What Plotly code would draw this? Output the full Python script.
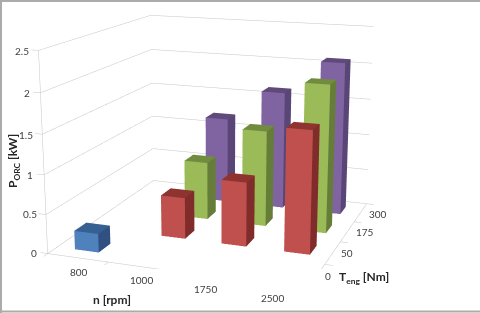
import math
import plotly.graph_objects as go

speeds = ["800", "1000", "1750", "2500"]
torques = ["0", "50", "175", "300"]
z_ticks = [0, 0.5, 1, 1.5, 2, 2.5]
z_labels = ["0", "0.5", "1", "1.5", "2", "2.5"]
blue_vals = [0.24, None, None, None]
red_vals = [None, 0.54, 0.83, 1.56]
green_vals = [None, 0.78, 1.28, 1.95]
purple_vals = [None, 1.19, 1.62, 2.08]
series = [
    (0, blue_vals, ["#4F81BD", "#376092", "#2F5080"]),
    (1, red_vals, ["#C0504D", "#8F3330", "#7F2C2A"]),
    (2, green_vals, ["#9BBB59", "#728C3F", "#667D39"]),
    (3, purple_vals, ["#8064A2", "#604A7B", "#5A4676"]),
]

PAD = 0.3
BAR_HALF = 0.2
xs, ys, zs, fc, I, J, K = [], [], [], [], [], [], []


def box(cx, cy, h, cols):
    n = len(xs)
    for z in (0, h):
        for dx, dy in ((-BAR_HALF, -BAR_HALF), (BAR_HALF, -BAR_HALF), (BAR_HALF, BAR_HALF), (-BAR_HALF, BAR_HALF)):
            xs.append(cx + dx)
            ys.append(cy + dy)
            zs.append(z)
    front, top, side = cols
    faces = [((0, 1, 5), front), ((0, 5, 4), front), ((1, 2, 6), side), ((1, 6, 5), side), ((4, 5, 6), top), ((4, 6, 7), top)]
    for (a, b, c), col in faces:
        I.append(n + a)
        J.append(n + b)
        K.append(n + c)
        fc.append(col)


for row, vals, cols in series:
    for i, v in enumerate(vals):
        if v is not None:
            box(i + 0.5, row + 0.5, v, cols)

fig = go.Figure(go.Mesh3d(x=xs, y=ys, z=zs, i=I, j=J, k=K, facecolor=fc, flatshading=True,
                          lighting=dict(ambient=1, diffuse=0, specular=0, roughness=1, fresnel=0), hoverinfo="skip"))

gx, gy, gz = [], [], []
for z in z_ticks:
    gx += [0, 0, 4, None, 0, -0.12, None]
    gy += [0, 4, 4, None, 0, 0, None]
    gz += [z, z, z, None, z, z, None]
gx += [0, 0, None, 0, 4, 4, None]
gy += [0, 0, None, 0, 0, 4, None]
gz += [0, 2.5, None, 0, 0, 0, None]
for i in range(5):
    gx += [i, i, None, 4, 4.12, None]
    gy += [0, -0.12, None, i, i, None]
    gz += [0, 0, None, 0, 0, None]
fig.add_trace(go.Scatter3d(x=gx, y=gy, z=gz, mode="lines", line=dict(color="#C6C6C6", width=1), hoverinfo="skip"))


def lab(t, px, py, anchor="center", size=10, bold=False, angle=0):
    return dict(text=f"<b>{t}</b>" if bold else t, x=px / 480, y=1 - py / 313, xref="paper", yref="paper",
                xanchor=anchor, yanchor="middle", showarrow=False, textangle=angle,
                font=dict(family="Lato", size=size, color="#262626" if bold else "#404040"))


anns = []
for t, (a, b) in zip(z_labels, [(39, 253), (39, 214), (35, 175), (35, 135), (32, 93), (31, 51)]):
    anns.append(lab(t, a, b, "right"))
for t, (a, b) in zip(speeds, [(79, 272), (141, 280), (205, 289), (272, 298)]):
    anns.append(lab(t, a, b))
for t, (a, b) in zip(torques, [(328, 276), (347, 253), (365, 232), (378, 214)]):
    anns.append(lab(t, a, b))
anns.append(lab("n [rpm]", 112, 299, size=12, bold=True))
anns.append(lab("T<sub>eng</sub> [Nm]", 364, 277, size=12, bold=True))
anns.append(lab("P<sub>ORC</sub> [kW]", 13, 161, size=12, bold=True, angle=-90))

BORDER = "#ABABAB"
shapes = [dict(type="line", xref="paper", yref="paper", x0=1 / 480, x1=1 / 480, y0=0, y1=1, line=dict(color=BORDER, width=2)),
          dict(type="line", xref="paper", yref="paper", x0=0, x1=1, y0=1 - 1 / 313, y1=1 - 1 / 313, line=dict(color=BORDER, width=2)),
          dict(type="line", xref="paper", yref="paper", x0=0, x1=1, y0=1.5 / 313, y1=1.5 / 313, line=dict(color=BORDER, width=2))]

AY, AZ = 0.9889, 0.7677
FOCAL = 1000.0
DOMAIN_X = [0, 0.9114]
DOMAIN_Y = [0.1409, 1]
FOVY = 2 * math.atan((DOMAIN_Y[1] - DOMAIN_Y[0]) * 313 / 2 / FOCAL)
sc = (4 + 2 * PAD) / 4

fig.update_layout(
    width=480, height=313, margin=dict(l=0, r=0, t=0, b=0), showlegend=False, paper_bgcolor="white",
    scene=dict(domain=dict(x=DOMAIN_X, y=DOMAIN_Y),
               xaxis=dict(visible=False, range=[-PAD, 4 + PAD]),
               yaxis=dict(visible=False, range=[-PAD, 4 + PAD]),
               zaxis=dict(visible=False, range=[0, 2.5]),
               aspectmode="manual", aspectratio=dict(x=sc, y=AY * sc, z=AZ),
               camera=dict(eye=dict(x=1.2966, y=-3.5780, z=0.9789), center=dict(x=0, y=0, z=0), up=dict(x=0, y=0, z=1),
                           projection=dict(type="perspective"))),
    annotations=anns, shapes=shapes)

POST = """
document.body.style.margin='0';
var gd=document.getElementById('{plot_id}');
function setFov(){var gp=gd._fullLayout.scene._scene.glplot; gp.fovy=%f; gp.redraw();}
setFov(); setTimeout(setFov,100); setTimeout(setFov,500);
""" % FOVY
fig.write_html("out.html", post_script=POST, config=dict(displayModeBar=False))
